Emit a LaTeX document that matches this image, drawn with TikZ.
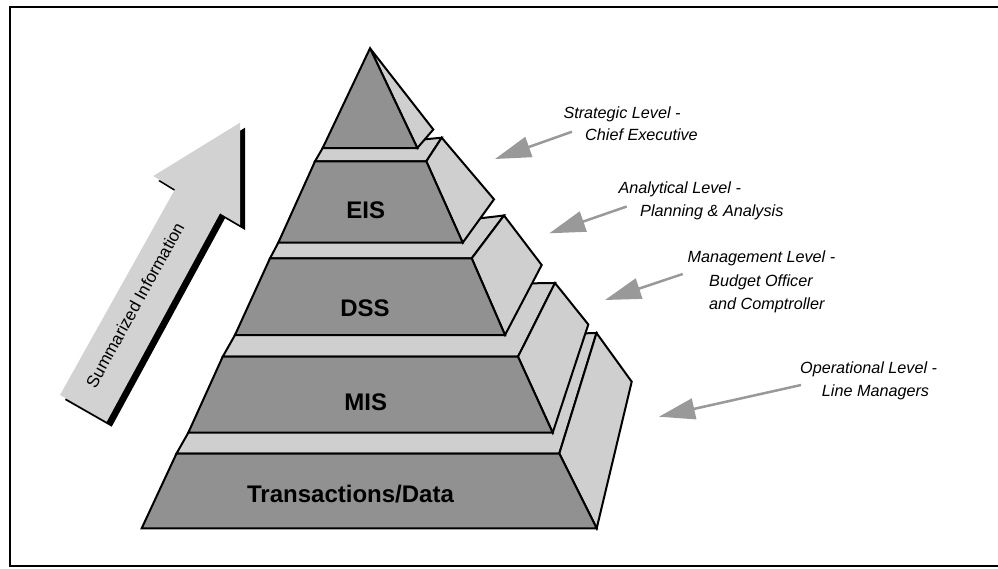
\documentclass[tikz,border=0pt]{standalone}
\usepackage{fontspec}
\setmainfont{Liberation Sans}
\usetikzlibrary{arrows.meta,calc}
\definecolor{darkface}{RGB}{145,145,145}
\definecolor{lightface}{RGB}{207,207,207}
\definecolor{arrowgray}{RGB}{153,153,153}
\definecolor{bigarrowfill}{RGB}{210,210,210}
\newcommand\bigarrowpath{(240,122.7) -- (153.3,176) -- (175,189.3) -- (60,395) -- (106.7,421.7) -- (220,213.3) -- (240,225) -- cycle}
\begin{document}
\begin{tikzpicture}[x=1pt,y=-1pt,
  face/.style={draw=black,line width=2pt,line join=miter,miter limit=3},
  front/.style={face,fill=darkface},
  lightf/.style={face,fill=lightface},
  tierlabel/.style={font=\bfseries\fontsize{24}{28}\selectfont,inner sep=0pt,anchor=base},
  levellabel/.style={font=\itshape\fontsize{16.2}{20}\selectfont,inner sep=0pt,anchor=base west},
  labarrow/.style={draw=arrowgray,line width=2.5pt,-{Triangle[length=36pt,width=21pt]}}]
\useasboundingbox (0,0) rectangle (998,568);
\begin{scope}
  \clip (0,0) rectangle (998,568);
  \draw[line width=2.2pt] (9.7,6.7) rectangle (1010,566);
\end{scope}

% big arrow
\fill[black,shift={(5,5)}] \bigarrowpath;
\fill[bigarrowfill] \bigarrowpath;
\node[rotate=61.1,inner sep=0pt,font=\fontsize{17}{20}\selectfont] (summ) at (135,305) {Summarized Information};

% coordinates
\coordinate (tTL) at (176.5,453.5);
\coordinate (tTR) at (559.3,453.5);
\coordinate (tBR) at (596.7,528.3);
\coordinate (tBL) at (141.7,528.3);
\coordinate (tB) at (596.5,333);
\coordinate (tR) at (631.7,381.7);
\coordinate (tC) at (586,333.3);

\coordinate (mTL) at (222.7,356.7);
\coordinate (mTR) at (518,356.7);
\coordinate (mBR) at (552.7,432.7);
\coordinate (mBL) at (188.3,432.7);
\coordinate (mB) at (555,283);
\coordinate (mR) at (588.3,324.5);
\coordinate (mC) at (533.3,283.3);

\coordinate (dTL) at (270,258.3);
\coordinate (dTR) at (471.7,258.3);
\coordinate (dBR) at (505,335);
\coordinate (dBL) at (235,335);
\coordinate (dB) at (504,215.5);
\coordinate (dR) at (541.7,265);
\coordinate (dC) at (480,218.3);

\coordinate (eTL) at (315,161.3);
\coordinate (eTR) at (426.3,161.3);
\coordinate (eBR) at (462.7,242.7);
\coordinate (eBL) at (278.3,242.7);
\coordinate (eB) at (441.7,137.7);
\coordinate (eR) at (494,199.3);
\coordinate (eC) at (425,139.3);

\coordinate (pA) at (370,48.3);
\coordinate (pBL) at (322.7,148);
\coordinate (pBR) at (417.3,148);
\coordinate (pR) at (433.3,129.5);

% Transactions tier
\path[lightf] (tTL) -- ($(tTL)!4!(mBL)$) -- (tC) -- (tB) -- (tTR) -- cycle;
\path[lightf] (tTR) -- (tB) -- (tR) -- (tBR) -- cycle;
\path[front] (tTL) -- (tTR) -- (tBR) -- (tBL) -- cycle;
\node[tierlabel] (trans) at (350.5,502.3) {Transactions/Data};

% MIS tier
\path[lightf] (mTL) -- ($(mTL)!4!(dBL)$) -- (mC) -- (mB) -- (mTR) -- cycle;
\path[lightf] (mTR) -- (mB) -- (mR) -- (mBR) -- cycle;
\path[front] (mTL) -- (mTR) -- (mBR) -- (mBL) -- cycle;
\node[tierlabel] (mis) at (365.8,410) {MIS};

% DSS tier
\path[lightf] (dTL) -- ($(dTL)!4!(eBL)$) -- (dC) -- (dB) -- (dTR) -- cycle;
\path[lightf] (dTR) -- (dB) -- (dR) -- (dBR) -- cycle;
\path[front] (dTL) -- (dTR) -- (dBR) -- (dBL) -- cycle;
\node[tierlabel] (dss) at (365,316) {DSS};

% EIS tier
\path[lightf] (eTL) -- ($(eTL)!4!(pBL)$) -- (eC) -- (eB) -- (eTR) -- cycle;
\path[lightf] (eTR) -- (eB) -- (eR) -- (eBR) -- cycle;
\path[front] (eTL) -- (eTR) -- (eBR) -- (eBL) -- cycle;
\node[tierlabel] (eis) at (365.8,218.3) {EIS};

% apex
\path[lightf] (pA) -- (pR) -- (pBR) -- cycle;
\path[front] (pA) -- (pBR) -- (pBL) -- cycle;

% level labels
\node[levellabel] (s1) at (563.3,118.3) {Strategic Level -};
\node[levellabel] (s2) at (585,140.7) {Chief Executive};
\node[levellabel] (a1) at (618.3,193.3) {Analytical Level -};
\node[levellabel] (a2) at (640,216.7) {Planning \& Analysis};
\node[levellabel] (g1) at (687.3,262.7) {Management Level -};
\node[levellabel] (g2) at (709,286) {Budget Officer};
\node[levellabel] (g3) at (709,309) {and Comptroller};
\node[levellabel] (o1) at (800,373.3) {Operational Level -};
\node[levellabel] (o2) at (821.7,396.7) {Line Managers};

% label arrows
\coordinate (sA) at (572,131.7);  \coordinate (sT) at (495,159);
\coordinate (aA) at (626.7,206.5); \coordinate (aT) at (549.3,233.3);
\coordinate (gA) at (682.7,274);  \coordinate (gT) at (605,300);
\coordinate (oA) at (801,385);    \coordinate (oT) at (659,416.7);
\draw[labarrow] (sA) -- (sT);
\draw[labarrow] (aA) -- (aT);
\draw[labarrow] (gA) -- (gT);
\draw[labarrow] (oA) -- (oT);
\end{tikzpicture}
\end{document}
